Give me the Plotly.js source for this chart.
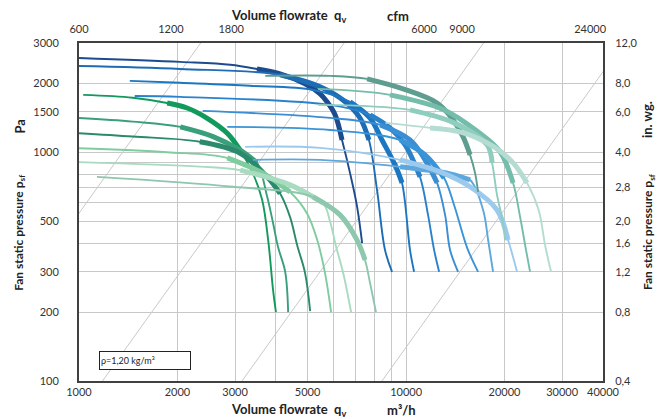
<!DOCTYPE html>
<html><head><meta charset="utf-8">
<script src="https://cdn.plot.ly/plotly-3.0.1.min.js"></script>
<style>html,body{margin:0;padding:0;background:#fff}#chart{width:667px;height:419px}</style>
</head><body><div id="chart"></div>
<script>
// ---- axis ticks / labels ----
const xTickVals = [1000, 2000, 3000, 5000, 10000, 20000, 30000, 40000];
const xMinorGrid = [4000, 6000, 7000, 8000, 9000];
const yTickVals = [100, 200, 300, 500, 1000, 1500, 2000, 3000];
const yMinorGrid = [400, 600, 700, 800, 900];
const inwgVals = [100, 200, 300, 400, 500, 700, 1000, 1500, 2000, 3000];
const inwgLabels = ["0,4", "0,8", "1,2", "1,6", "2,0", "2,8", "4,0", "6,0", "8,0", "12,0"];
const cfmLabels = ["600", "1200", "1800", "6000", "9000", "24000"];
const cfmAt = [1000, 1910, 2920, 11350, 14830, 36540];
// system curves p = 100 Pa at these flows (p ~ q^2)
const systemQ0 = [430, 1180, 3150, 8440];

// ---- fan curves (q in m3/h, p in Pa) ----
const g1Q = [1030, 1460, 1860, 2140, 2460, 2840, 3110, 3400, 3630, 3790, 3920, 4000];
const g1P = [1780, 1730, 1640, 1560, 1410, 1210, 1020, 810, 620, 410, 250, 200];
const g2Q = [1000, 1460, 2040, 2570, 3110, 3500, 3760, 3920, 4060, 4270, 4360];
const g2P = [1410, 1360, 1290, 1170, 1020, 900, 640, 490, 385, 300, 200];
const g3Q = [1000, 1460, 2340, 3110, 3760, 4120, 4420, 4650, 4910, 5090];
const g3P = [1210, 1170, 1110, 990, 780, 660, 520, 390, 297, 202];
const g4Q = [1000, 1860, 2840, 3650, 4420, 4980, 5350, 5650, 5900];
const g4P = [1040, 1000, 945, 810, 670, 540, 413, 297, 200];
const g5Q = [1000, 2340, 3110, 4420, 5570, 5850, 6100, 6420, 6790];
const g5P = [905, 865, 835, 720, 600, 500, 390, 297, 200];
const g6Q = [1135, 2960, 5200, 6280, 7080, 7490, 7760, 8090];
const g6P = [780, 706, 638, 532, 413, 338, 268, 200];

const b1Q = [1000, 2040, 2900, 3500, 4120, 4910, 5460, 5730, 6070, 6370, 6740, 7080, 7340];
const b1P = [2580, 2480, 2410, 2310, 2200, 1990, 1800, 1660, 1455, 1130, 810, 580, 400];
const b2Q = [1000, 2040, 4120, 5460, 6510, 7230, 7700, 8150, 8620, 9060];
const b2P = [2380, 2310, 2180, 1930, 1660, 1410, 1130, 684, 374, 300];
const b3Q = [1430, 2040, 3330, 5200, 6740, 7760, 8440, 9250, 9720, 10280, 10580];
const b3P = [2050, 2010, 1950, 1870, 1660, 1410, 1130, 880, 734, 374, 300];
const b4Q = [1480, 2040, 5860, 7760, 8930, 9930, 11030, 11670, 12180, 12620];
const b4P = [1760, 1745, 1610, 1455, 1277, 1076, 780, 532, 374, 300];
const b5Q = [2390, 5860, 8330, 10280, 11430, 12440, 13160, 13630, 14420];
const b5P = [1515, 1412, 1316, 1131, 925, 734, 532, 374, 300];
const b6Q = [2840, 5860, 9590, 11430, 13070, 14020, 15370, 16600];
const b6P = [1290, 1250, 1130, 973, 771, 588, 382, 300];
const b7Q = [3400, 5460, 9590, 13630, 15690, 17200, 17820, 18450];
const b7P = [925, 925, 863, 804, 756, 559, 413, 300];
const b8Q = [3220, 5460, 9590, 12700, 15690, 18970, 20500, 21840];
const b8P = [1055, 1044, 925, 820, 706, 559, 413, 300];

const t1Q = [3710, 5860, 7600, 9790, 12440, 13920, 14940, 15690, 16250, 16600];
const t1P = [2155, 2155, 2090, 1890, 1640, 1384, 1167, 973, 812, 670];
const t2Q = [5380, 8930, 13070, 16600, 19380, 21240, 22310, 23260, 23940];
const t2P = [1890, 1780, 1530, 1226, 1003, 734, 522, 374, 300];
const t3Q = [5380, 10280, 14020, 17690, 18320, 18970, 19790, 20070];
const t3P = [1610, 1530, 1343, 1076, 898, 651, 491, 413];
const t4Q = [8650, 11840, 14620, 18580, 21240, 23430, 25430, 26600, 27750];
const t4P = [1343, 1277, 1226, 1055, 898, 734, 559, 393, 300];

// optimal-range (thick) segments: first and last point index
const curves = [
  {q: g1Q, p: g1P, c: '#129a5c', thick: [2, 6]},
  {q: g2Q, p: g2P, c: '#3a9f7b', thick: [2, 5]},
  {q: g3Q, p: g3P, c: '#2b8a6c', thick: [2, 5]},
  {q: g4Q, p: g4P, c: '#7fcd9f', thick: [2, 4]},
  {q: g5Q, p: g5P, c: '#a8dbbf', thick: [2, 4]},
  {q: g6Q, p: g6P, c: '#8dc7ad', thick: [2, 5]},
  {q: b1Q, p: b1P, c: '#1c4c8e', thick: [3, 9]},
  {q: b2Q, p: b2P, c: '#1d6cb4', thick: [2, 6]},
  {q: b3Q, p: b3P, c: '#1c77c2', thick: [4, 8]},
  {q: b4Q, p: b4P, c: '#2a82cb', thick: [3, 6]},
  {q: b5Q, p: b5P, c: '#3b8ed3', thick: [2, 5]},
  {q: b6Q, p: b6P, c: '#3994d8', thick: [2, 4]},
  {q: b7Q, p: b7P, c: '#5ca7de', thick: [2, 4]},
  {q: b8Q, p: b8P, c: '#9ccaee', thick: [2, 6]},
  {q: t1Q, p: t1P, c: '#5e9d8f', thick: [2, 7]},
  {q: t2Q, p: t2P, c: '#74bdab', thick: [1, 5]},
  {q: t3Q, p: t3P, c: '#8fcdbf', thick: [1, 4]},
  {q: t4Q, p: t4P, c: '#b4dcd2', thick: [1, 5]}
];

const traces = [];
systemQ0.forEach(q0 => {
  traces.push({x: [q0, q0 * Math.sqrt(30)], y: [100, 3000], mode: 'lines',
    line: {color: '#c9c9c9', width: 1}, hoverinfo: 'skip', showlegend: false});
});
curves.forEach(cv => {
  traces.push({x: cv.q, y: cv.p, mode: 'lines',
    line: {color: cv.c, width: 1.9, shape: 'spline', smoothing: 1}, showlegend: false});
  traces.push({x: cv.q.slice(cv.thick[0], cv.thick[1] + 1), y: cv.p.slice(cv.thick[0], cv.thick[1] + 1),
    mode: 'lines', line: {color: cv.c, width: 5, shape: 'spline', smoothing: 1}, showlegend: false});
});
// carrier for secondary axes
traces.push({x: [1000], y: [100], xaxis: 'x2', yaxis: 'y2', mode: 'markers',
  marker: {opacity: 0}, hoverinfo: 'skip', showlegend: false});

const tickFont = {family: 'Lato, "Open Sans", sans-serif', size: 11, color: '#333'};
const titleFont = {family: 'Lato, "Open Sans", sans-serif', size: 13, color: '#222'};
const xr = [Math.log10(1000), Math.log10(40000)];
const yr = [Math.log10(100), Math.log10(3000)];

const layout = {
  width: 667, height: 419,
  margin: {l: 79, r: 64, t: 43, b: 38},
  paper_bgcolor: '#fff', plot_bgcolor: '#fff',
  showlegend: false,
  xaxis: {type: 'log', range: xr, tickmode: 'array', tickvals: xTickVals,
    ticktext: xTickVals.map(String), tickfont: tickFont, showgrid: true,
    gridcolor: '#c8c8c8', gridwidth: 1, zeroline: false, showline: true,
    linecolor: '#404040', linewidth: 2, mirror: false, ticks: '', automargin: false,
    minor: {tickmode: 'array', tickvals: xMinorGrid, showgrid: true, gridcolor: '#c8c8c8', gridwidth: 1, ticks: ''}},
  yaxis: {type: 'log', range: yr, tickmode: 'array', tickvals: yTickVals,
    ticktext: yTickVals.map(String), tickfont: tickFont, showgrid: true,
    gridcolor: '#c8c8c8', gridwidth: 1, zeroline: false, showline: true,
    linecolor: '#404040', linewidth: 2, ticks: '', ticklabelstandoff: 16, automargin: false,
    minor: {tickmode: 'array', tickvals: yMinorGrid, showgrid: true, gridcolor: '#c8c8c8', gridwidth: 1, ticks: ''}},
  xaxis2: {type: 'log', range: xr, overlaying: 'x', side: 'top', tickmode: 'array',
    tickvals: cfmAt, ticktext: cfmLabels, tickfont: tickFont, showgrid: false,
    zeroline: false, showline: true, linecolor: '#404040', linewidth: 2, ticks: '',
    ticklabelstandoff: 4, automargin: false},
  yaxis2: {type: 'log', range: yr, overlaying: 'y', side: 'right', tickmode: 'array',
    tickvals: inwgVals, ticktext: inwgLabels, tickfont: tickFont, showgrid: true,
    gridcolor: '#c8c8c8', gridwidth: 1, zeroline: false, showline: true,
    linecolor: '#404040', linewidth: 2, ticks: '', ticklabelstandoff: 8, automargin: false},
  annotations: [
    {xref: 'paper', yref: 'paper', x: 0.399, y: -0.086, text: '<b>Volume flowrate  q<sub>v</sub></b>', showarrow: false, font: titleFont, xanchor: 'center', yanchor: 'middle'},
    {xref: 'paper', yref: 'paper', x: 0.616, y: -0.086, text: '<b>m³/h</b>', showarrow: false, font: titleFont, xanchor: 'center', yanchor: 'middle'},
    {xref: 'paper', yref: 'paper', x: 0.399, y: 1.08, text: '<b>Volume flowrate  q<sub>v</sub></b>', showarrow: false, font: titleFont, xanchor: 'center', yanchor: 'middle'},
    {xref: 'paper', yref: 'paper', x: 0.609, y: 1.08, text: '<b>cfm</b>', showarrow: false, font: titleFont, xanchor: 'center', yanchor: 'middle'},
    {xref: 'paper', yref: 'paper', x: -0.113, y: 0.752, text: '<b>Pa</b>', textangle: -90, showarrow: false, font: titleFont, xanchor: 'center', yanchor: 'middle'},
    {xref: 'paper', yref: 'paper', x: -0.113, y: 0.438, text: '<b>Fan static pressure p<sub>sf</sub></b>', textangle: -90, showarrow: false, font: {family: titleFont.family, size: 12, color: '#222'}, xanchor: 'center', yanchor: 'middle'},
    {xref: 'paper', yref: 'paper', x: 1.084, y: 0.772, text: '<b>in. wg.</b>', textangle: -90, showarrow: false, font: titleFont, xanchor: 'center', yanchor: 'middle'},
    {xref: 'paper', yref: 'paper', x: 1.088, y: 0.441, text: '<b>Fan static pressure p<sub>sf</sub></b>', textangle: -90, showarrow: false, font: {family: titleFont.family, size: 12, color: '#222'}, xanchor: 'center', yanchor: 'middle'},
    {xref: 'paper', yref: 'paper', x: 0.125, y: 0.062, text: 'ρ=1,20 kg/m³', showarrow: false,
      font: {family: titleFont.family, size: 9, color: '#222'}, xanchor: 'center', yanchor: 'middle',
      width: 88, height: 15, align: 'left', bordercolor: '#222', borderwidth: 1, borderpad: 1, bgcolor: '#fff'}
  ]
};
Plotly.newPlot('chart', traces, layout, {displayModeBar: false, staticPlot: true});
</script></body></html>
